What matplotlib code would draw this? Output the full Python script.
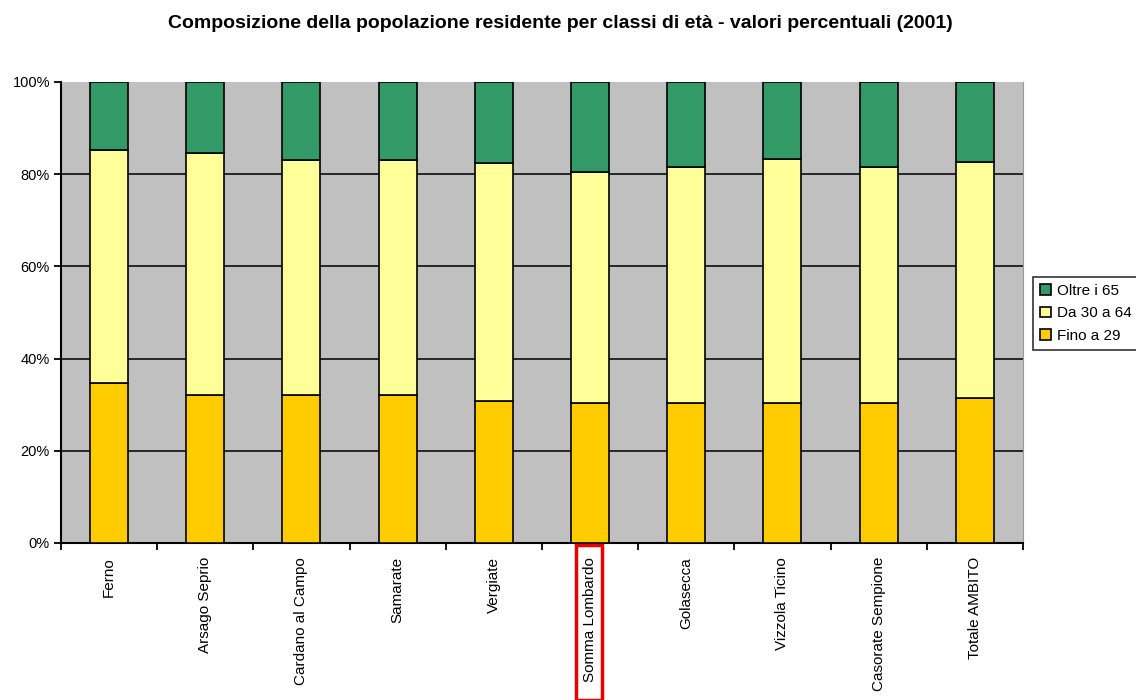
import numpy as np
import matplotlib.pyplot as plt
from matplotlib.patches import Rectangle
from matplotlib.ticker import PercentFormatter

plt.rcParams['font.family'] = ['Liberation Sans', 'DejaVu Sans']

comuni = ['Ferno', 'Arsago Seprio', 'Cardano al Campo', 'Samarate', 'Vergiate',
          'Somma Lombardo', 'Golasecca', 'Vizzola Ticino', 'Casorate Sempione',
          'Totale AMBITO']
# quote percentuali per classe di eta'
fino_29 = [34.7, 32.0, 32.0, 32.0, 30.9, 30.4, 30.4, 30.4, 30.4, 31.5]
da_30_64 = [50.5, 52.7, 51.1, 51.1, 51.6, 50.1, 51.2, 52.8, 51.2, 51.1]
oltre_65 = [14.8, 15.3, 16.9, 16.9, 17.5, 19.5, 18.4, 16.8, 18.4, 17.4]

fig = plt.figure(figsize=(11.36, 7.0), dpi=100)
ax = fig.add_axes([0.0537, 0.2243, 0.8468, 0.6586])
ax.set_facecolor('#C0C0C0')

x = np.arange(len(comuni))
w = 0.395
b1 = ax.bar(x, fino_29, w, color='#FFCC00', edgecolor='black', linewidth=1.2,
            label='Fino a 29', zorder=3)
b2 = ax.bar(x, da_30_64, w, bottom=fino_29, color='#FFFF99', edgecolor='black',
            linewidth=1.2, label='Da 30 a 64', zorder=3)
base = np.array(fino_29) + np.array(da_30_64)
b3 = ax.bar(x, oltre_65, w, bottom=base, color='#339966', edgecolor='black',
            linewidth=1.2, label='Oltre i 65', zorder=3)

ax.set_xlim(-0.5, len(comuni) - 0.5)
ax.set_ylim(0, 100)
ax.set_yticks([0, 20, 40, 60, 80, 100])
ax.yaxis.set_major_formatter(PercentFormatter(decimals=0))
for v in [20, 40, 60, 80]:
    ax.axhline(v, color='#1a1a1a', linewidth=1.3, zorder=1)

# tacche ai confini delle categorie, etichette centrate sulle barre
ax.set_xticks(np.arange(len(comuni) + 1) - 0.5)
ax.set_xticklabels([])
ax.set_xticks(x, minor=True)
ax.set_xticklabels(comuni, minor=True, rotation=90, fontsize=11, va='top')
ax.tick_params(axis='x', which='minor', length=0, pad=10)
ax.tick_params(axis='x', which='major', length=5, width=1.3, direction='out')
ax.tick_params(axis='y', length=5, width=1.3, labelsize=10.5, pad=3)

for s in ['left', 'bottom']:
    ax.spines[s].set_linewidth(1.5)
    ax.spines[s].set_color('black')
ax.spines['right'].set_color('#999999')
ax.spines['top'].set_visible(False)

fig.text(0.493, 0.966, 'Composizione della popolazione residente per classi di età - valori percentuali (2001)',
         ha='center', va='center', fontsize=14, fontweight='bold')

leg = fig.legend(handles=[b3, b2, b1], loc='upper left',
                 bbox_to_anchor=(1033 / 1136, 1 - 277 / 700), fontsize=11,
                 frameon=True, fancybox=False, edgecolor='black',
                 handlelength=0.7, handleheight=0.7, handletextpad=0.4,
                 borderpad=0.45, labelspacing=0.55, borderaxespad=0)
leg.get_frame().set_linewidth(1.2)

# evidenzia Somma Lombardo
fig.patches.append(Rectangle((576 / 1136, 0), 26 / 1136, 155 / 700,
                             transform=fig.transFigure, fill=False,
                             edgecolor='#EE0000', linewidth=2.5))

fig.savefig('out.png', dpi=100, facecolor='white')
